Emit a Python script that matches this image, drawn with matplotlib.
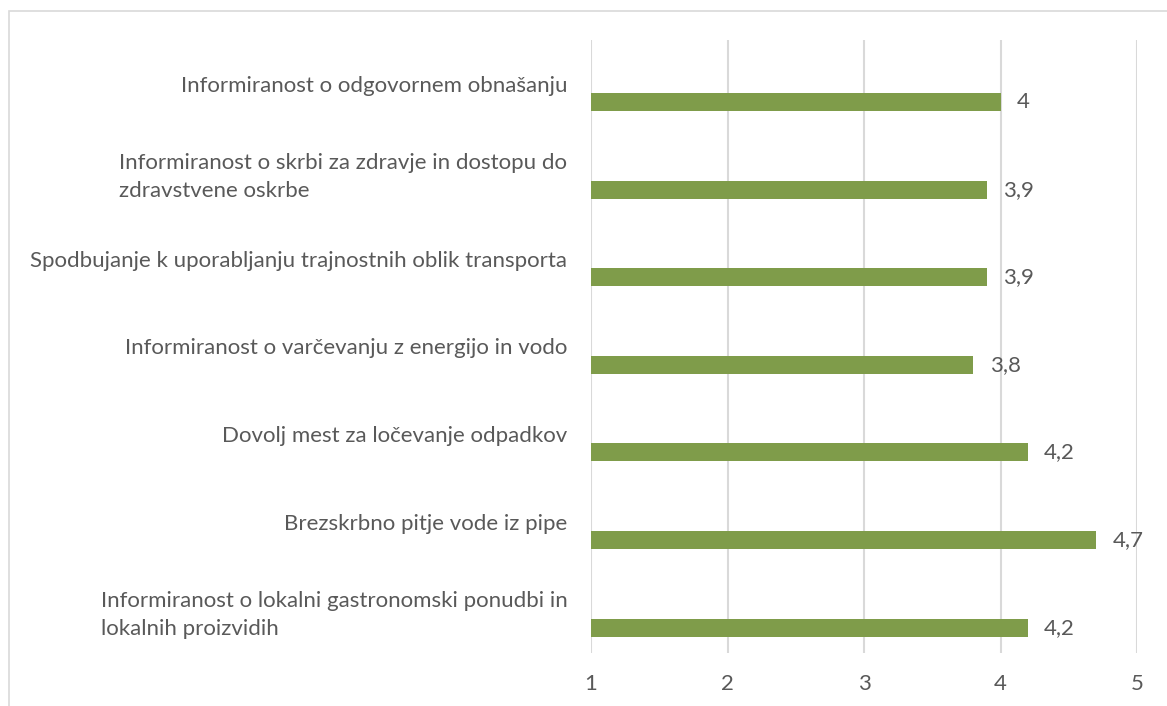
import matplotlib.pyplot as plt
from matplotlib.patches import Rectangle

# categories from top to bottom as in the chart
categories = [
    'Informiranost o odgovornem obnašanju',
    'Informiranost o skrbi za zdravje in dostopu do\nzdravstvene oskrbe',
    'Spodbujanje k uporabljanju trajnostnih oblik transporta',
    'Informiranost o varčevanju z energijo in vodo',
    'Dovolj mest za ločevanje odpadkov',
    'Brezskrbno pitje vode iz pipe',
    'Informiranost o lokalni gastronomski ponudbi in\nlokalnih proizvidih',
]
values = [4.0, 3.9, 3.9, 3.8, 4.2, 4.7, 4.2]
x_ticks = [1, 2, 3, 4, 5]

plt.rcParams['font.family'] = ['Lato', 'DejaVu Sans']
text_color = '#595959'
bar_color = '#7F9C4A'
fs = 16

W, H = 1167, 706
fig = plt.figure(figsize=(W / 100, H / 100), dpi=100)
ax = fig.add_axes([591 / W, 1 - 653 / H, (1137 - 591) / W, (653 - 40) / H])

# outer chart border (cropped at right and bottom in the reference)
fig.patches.append(Rectangle((9 / W, -0.1), 1.2, 1 - 11 / H + 0.1, transform=fig.transFigure,
                             fill=False, edgecolor='#D9D9D9', linewidth=1.2))

n = len(categories)
ypos = [n - 1 - i for i in range(n)]
offset = 0.21
ax.barh([y - offset for y in ypos], [v - 1 for v in values], left=1, height=0.205,
        color=bar_color, zorder=3)

for y, v in zip(ypos, values):
    label = f'{v:g}'.replace('.', ',')
    ax.text(v + 0.12, y - offset, label, va='center', ha='left', fontsize=fs, color=text_color)

ax.set_xlim(1, 5)
ax.set_ylim(-0.5, n - 0.5)
ax.set_xticks(x_ticks)
ax.set_xticklabels([str(t) for t in x_ticks])
ax.set_yticks(ypos)
ax.set_yticklabels(categories, multialignment='left', linespacing=1.5)
ax.tick_params(axis='x', length=0, pad=15, labelsize=fs, labelcolor=text_color)
ax.tick_params(axis='y', length=0, pad=17, labelsize=fs, labelcolor=text_color)
ax.xaxis.grid(True, color='#D9D9D9', linewidth=1.5, zorder=0)
ax.set_axisbelow(True)
for s in ax.spines.values():
    s.set_visible(False)

fig.savefig('out.png', dpi=100)
